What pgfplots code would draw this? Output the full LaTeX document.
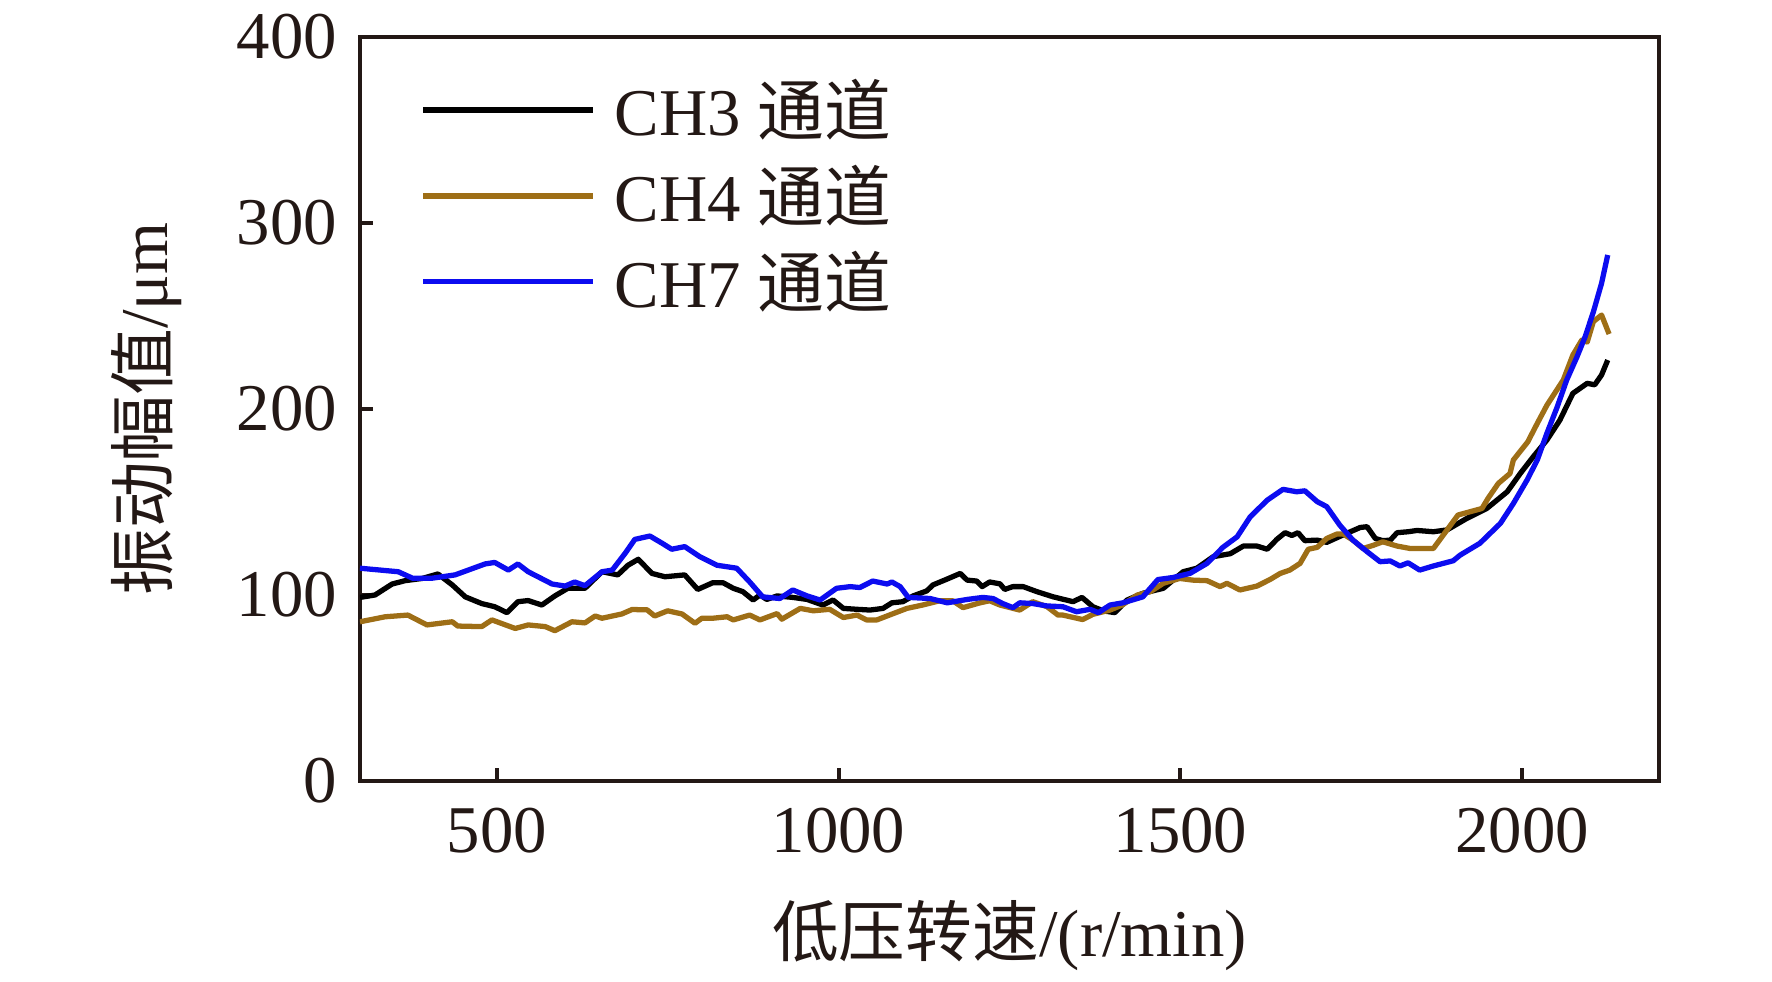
\documentclass[border=0pt]{standalone}
\usepackage{pgfplots}
\pgfplotsset{compat=1.18}
\usepackage{fontspec}
\setmainfont{Liberation Serif}
\newfontfamily\cjk{Noto Sans CJK SC}
\definecolor{axcol}{RGB}{35,24,21}
\definecolor{ch4}{RGB}{158,110,22}
\definecolor{ch7}{RGB}{12,12,240}
\begin{document}
\begin{tikzpicture}
\path[use as bounding box] (0,0) rectangle (17.72cm,9.82cm);
\begin{axis}[
  at={(3.60cm,2.01cm)}, anchor=south west,
  scale only axis, width=12.99cm, height=7.44cm,
  xmin=300, xmax=2200, ymin=0, ymax=400,
  xtick={500,1000,1500,2000}, ytick={0,100,200,300,400},
  xtick pos=bottom, ytick pos=left, tick align=inside,
  major tick length=3.7pt,
  axis line style={line width=1.1pt, axcol},
  tick style={line width=1.1pt, axcol},
  /pgf/number format/assume math mode=true,
  /pgf/number format/1000 sep={},
  ticklabel style={font=\fontsize{19}{22}\selectfont, text=axcol},
  xticklabel style={yshift=-4.2pt},
  yticklabel style={xshift=-3pt},
  label style={font=\fontsize{19}{22}\selectfont, text=axcol},
  xlabel={{\cjk 低压转速}/(r/min)},
  ylabel={{\cjk 振动幅值}/μm},
  xlabel style={at={(axis description cs:0.5,-0.208)}, anchor=center},
  ylabel style={at={(axis description cs:-0.164,0.5)}, anchor=center},
  legend style={at={(axis description cs:0.038,0.963)}, anchor=north west,
    draw=none, fill=none, font=\fontsize{19}{22}\selectfont, text=axcol,
    row sep=2.9pt, column sep=3.4pt},
  legend cell align=left,
  legend image code/.code={\draw[#1] (0cm,0cm) -- (1.70cm,0cm);},
  every axis plot/.append style={line width=1.5pt, line join=round},
]
\addplot[black] coordinates {
(300,98.7)(322,100)(347,105.9)(366,107.7)(391,108.9)(414,111.3)(435,105.4)(454,99)(478,95.4)(497,93.7)
(515,90.5)(531,96.4)(546,97)(566,94.6)(585,99.5)(604,103.6)(629,103.6)(654,112.5)(677,110.8)(692,116)
(707,119.2)(727,111.6)(746,109.8)(775,110.8)(794,103)(816,106.6)(831,106.6)(846,103.6)(860,101.8)(875,97.3)
(885,100)(895,97.6)(910,99.5)(933,98.7)(954,97.6)(977,94.6)(992,97.3)(1007,92.8)(1027,92.3)(1046,91.9)
(1065,92.8)(1078,95.8)(1094,96.4)(1109,99.5)(1129,102.2)(1138,105.4)(1159,108.6)(1178,111.6)(1188,108)(1202,107.5)
(1210,104.5)(1221,107)(1236,106)(1243,103)(1255,104.5)(1270,104.5)(1290,101.8)(1314,99)(1324,98.1)(1343,96.4)
(1356,98.7)(1372,93.7)(1387,91.5)(1404,90.5)(1422,97.3)(1445,100.9)(1475,103.6)(1504,112.5)(1524,114.4)(1548,120.6)
(1573,122.2)(1592,126.3)(1612,126.3)(1627,124.6)(1641,129.9)(1653,133.5)(1663,132)(1672,133.5)(1682,129.2)(1700,129.5)
(1714,128.3)(1738,132.3)(1763,136.3)(1773,136.7)(1785,130.4)(1796,129.2)(1807,129.5)(1817,133.5)(1833,134)(1846,134.7)
(1870,134)(1890,135)(1919,141.2)(1948,146.5)(1978,155.5)(1997,165.3)(2016,174.3)(2036,183.3)(2055,194)(2074,208.4)
(2095,213.8)(2106,213)(2116,218.3)(2125,226.3)
};
\addlegendentry{CH3 {\cjk 通道}}
\addplot[ch4] coordinates {
(300,85.6)(337,88.3)(370,89.2)(398,83.9)(435,85.6)(443,83.3)(478,83)(493,86.6)(527,82)(546,83.9)
(571,83)(585,80.8)(610,85.6)(629,85)(644,88.7)(654,87.5)(683,89.8)(698,92.2)(720,92)(731,88.7)
(750,91.5)(771,89.8)(790,84.8)(800,87.5)(816,87.5)(837,88.3)(846,86.6)(870,89.2)(885,86.6)(910,90)
(917,87)(944,92.8)(963,91.5)(987,92.3)(1007,87.9)(1027,89.2)(1041,86.6)(1056,86.6)(1080,90)(1100,92.8)
(1123,94.6)(1148,96.9)(1167,96.9)(1182,93.2)(1207,95.8)(1221,96.9)(1236,94.6)(1265,91.9)(1284,96.4)(1305,93.7)
(1321,89.2)(1328,89.2)(1357,86.8)(1372,89.6)(1397,91.9)(1415,94.6)(1437,100)(1456,101.8)(1475,106.3)(1499,108.9)
(1518,108)(1539,107.7)(1558,104.5)(1568,106.3)(1587,102.7)(1612,104.8)(1631,108.3)(1646,111.6)(1660,113.4)(1675,117)
(1687,124.6)(1700,125.6)(1714,130.4)(1729,132.8)(1738,132.8)(1752,129.6)(1767,125)(1782,126.7)(1796,128.6)(1817,126.3)
(1836,125)(1870,125)(1906,143)(1941,146.5)(1950,152)(1965,160)(1982,165.3)(1987,172.6)(2008,182.3)(2022,192.3)
(2036,202)(2060,215.6)(2074,229)(2087,237)(2095,236)(2104,247)(2116,250.5)(2127,240.3)
};
\addlegendentry{CH4 {\cjk 通道}}
\addplot[ch7] coordinates {
(300,114.4)(356,112.5)(377,109)(405,109)(439,110.8)(483,116.7)(497,117.5)(517,113.4)(531,116.7)(546,112.5)
(581,105.9)(600,104.8)(614,107)(629,105)(654,112.5)(669,113.4)(688,122.5)(702,129.9)(724,131.7)(742,127.8)
(756,124.6)(775,126)(797,120.6)(822,116)(851,114.4)(870,107)(889,99)(914,98.1)(933,102.7)(954,99.5)
(973,97.3)(997,103.6)(1017,104.5)(1031,104)(1050,107.5)(1071,105.9)(1078,107)(1090,104.5)(1102,98.7)(1134,98.1)
(1159,95.8)(1188,97.6)(1211,98.7)(1226,98.1)(1240,95.4)(1255,93.2)(1265,95.8)(1284,95.4)(1305,94.1)(1328,93.7)
(1348,91)(1368,92.3)(1380,90.5)(1397,94.6)(1416,95.8)(1445,99)(1467,108.3)(1489,109.4)(1514,111.6)(1539,117)
(1562,125.6)(1583,131.3)(1602,142)(1627,151)(1650,156.8)(1670,155.5)(1682,156)(1700,150.2)(1714,147.5)(1733,137.6)
(1752,129.6)(1773,123.3)(1792,117.9)(1807,118.3)(1821,115.6)(1833,117.3)(1850,113.4)(1870,115.6)(1899,118.4)(1909,121.4)
(1938,127.8)(1968,138.5)(1987,149.2)(2007,161.8)(2022,172.6)(2036,186.9)(2051,201)(2065,215.6)(2080,228)(2092,238.9)
(2104,252.2)(2116,267.6)(2125,282.8)
};
\addlegendentry{CH7 {\cjk 通道}}
\end{axis}
\end{tikzpicture}
\end{document}
